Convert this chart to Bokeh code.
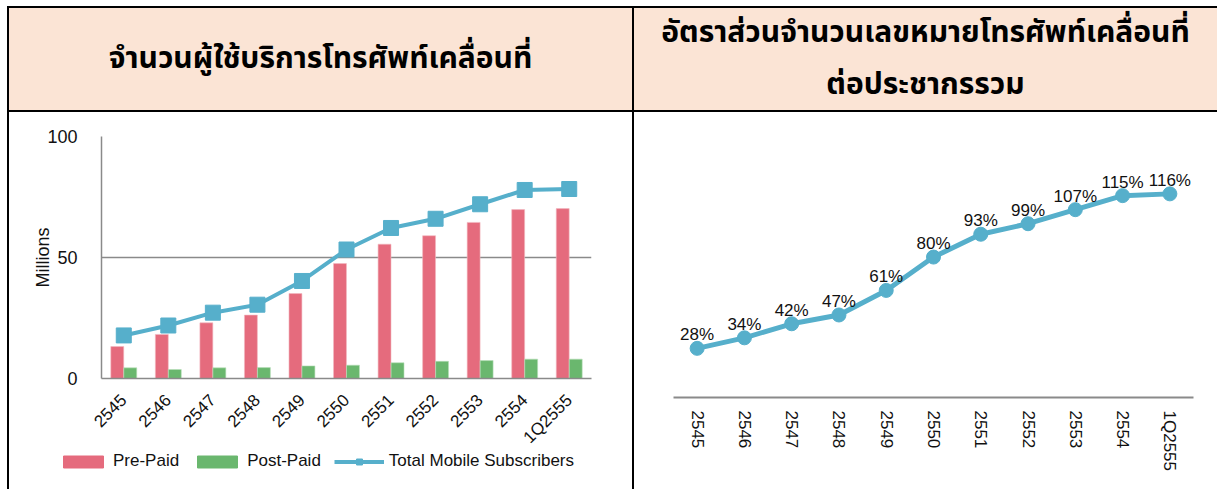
import math
from bokeh.plotting import figure
from bokeh.models import (Div, FactorRange, FixedTicker, Legend, LegendItem,
                          LabelSet, ColumnDataSource, Range1d)
from bokeh.layouts import row, column
from bokeh.transform import dodge
from bokeh.core.properties import value
from bokeh.embed import file_html
from bokeh.resources import INLINE

# ---------------- data ----------------
years = ["2545", "2546", "2547", "2548", "2549", "2550", "2551", "2552", "2553", "2554", "1Q2555"]
prepaid = [13.2, 18.2, 23.0, 26.2, 35.1, 47.5, 55.5, 59.0, 64.5, 69.8, 70.2]
postpaid = [4.4, 3.7, 4.4, 4.5, 5.2, 5.5, 6.5, 7.1, 7.4, 8.0, 8.0]
total_subs = [17.8, 21.9, 27.2, 30.5, 40.3, 53.3, 62.2, 66.0, 72.0, 77.9, 78.3]
penetration = [28, 34, 42, 47, 61, 80, 93, 99, 107, 115, 116]
y_ticks_left = [0, 50, 100]

title_left = "จำนวนผู้ใช้บริการโทรศัพท์เคลื่อนที่"
title_right_lines = ["อัตราส่วนจำนวนเลขหมายโทรศัพท์เคลื่อนที่", "ต่อประชากรรวม"]
series_names = ["Pre-Paid", "Post-Paid", "Total Mobile Subscribers"]
y_axis_label = "Millions"

# ---------------- styles ----------------
FONT = "Liberation Sans"
THAI_FONT = "'Noto Sans Thai', 'Noto Sans Thai UI', 'Loma', 'Garuda', 'Tlwg Typist', 'Noto Sans', sans-serif"
PINK = "#E56B7D"
GREEN = "#6AB76E"
BLUE = "#56AFCB"
AXIS_GRAY = "#8a8a8a"
PEACH = "#FBE4D5"
TXT = "#111111"
FS = "17px"

LEFT_W, RIGHT_W, BORDER = 623, 583, 2
HEAD_H, CELL_H, FIG_H = 102, 377, 360
TOP_PAD, LEFT_PAD, RIGHT_SHIFT = 6, 7, 17
P1_BOTTOM = 76
P1_H = 24 + 244 + P1_BOTTOM
OVERLAP = 8
LEG_H = CELL_H - P1_H + OVERLAP

# ---------------- left chart ----------------
src1 = ColumnDataSource(dict(cat=years, pre=prepaid, post=postpaid, tot=total_subs))
p1 = figure(width=LEFT_W, height=P1_H, x_range=FactorRange(*years), y_range=(0, 100),
            output_backend="svg", toolbar_location=None,
            min_border_left=92, min_border_right=41, min_border_top=24,
            min_border_bottom=P1_BOTTOM)
p1.frame_align = False
p1.outline_line_color = None
p1.background_fill_color = "white"
p1.border_fill_color = "white"

p1.vbar(x=dodge("cat", -0.146, range=p1.x_range), top="pre", width=0.29, source=src1,
        fill_color=PINK, line_color="#f2b9c1", line_width=0.6)
p1.vbar(x=dodge("cat", 0.146, range=p1.x_range), top="post", width=0.29, source=src1,
        fill_color=GREEN, line_color="#b9dfbb", line_width=0.6)
p1.line(x="cat", y="tot", source=src1, line_color=BLUE, line_width=4)
p1.scatter(x="cat", y="tot", source=src1, marker="square", size=15,
           fill_color=BLUE, line_color=BLUE)

p1.yaxis.ticker = FixedTicker(ticks=y_ticks_left)
p1.ygrid.ticker = FixedTicker(ticks=y_ticks_left)
p1.xgrid.grid_line_color = None
p1.ygrid.grid_line_color = AXIS_GRAY
p1.ygrid.grid_line_width = 1.5
for ax in (p1.xaxis[0], p1.yaxis[0]):
    ax.axis_line_color = AXIS_GRAY
    ax.axis_line_width = 1.5
    ax.major_tick_line_color = None
    ax.minor_tick_line_color = None
    ax.major_tick_out = 0
    ax.major_tick_in = 0
    ax.major_label_text_font = FONT
    ax.major_label_text_font_size = FS
    ax.major_label_text_color = TXT
p1.yaxis.axis_label = y_axis_label
p1.yaxis.axis_label_text_font = FONT
p1.yaxis.axis_label_text_font_size = "18px"
p1.yaxis.axis_label_text_font_style = "normal"
p1.yaxis.axis_label_text_color = TXT
p1.yaxis.axis_label_standoff = -9
p1.yaxis.major_label_text_font_size = "18px"
p1.yaxis.major_label_standoff = 24
p1.xaxis.major_label_orientation = math.pi / 4
p1.xaxis.major_label_standoff = 19

# legend strip below the chart (transparent, slightly overlapping the chart's bottom edge);
# its sample glyphs use the same data, kept out of view
lg = figure(width=LEFT_W, height=LEG_H, x_range=FactorRange(*years), y_range=Range1d(1000, 1001),
            output_backend="svg", toolbar_location=None,
            x_axis_location=None, y_axis_location=None,
            min_border_left=0, min_border_right=0, min_border_top=0, min_border_bottom=0)
lg.margin = (-OVERLAP, 0, 0, 0)
lg.frame_align = False
lg.grid.grid_line_color = None
lg.outline_line_color = None
lg.border_fill_alpha = 0
lg.background_fill_alpha = 0
g_pre = lg.vbar(x="cat", top="pre", width=0.01, source=src1, fill_color=PINK, line_color=PINK)
g_post = lg.vbar(x="cat", top="post", width=0.01, source=src1, fill_color=GREEN, line_color=GREEN)
g_line = lg.line(x="cat", y="tot", source=src1, line_color=BLUE, line_width=4)
g_mark = lg.scatter(x="cat", y="tot", source=src1, marker="square", size=15,
                    fill_color=BLUE, line_color=BLUE)
legend = Legend(items=[LegendItem(label=series_names[0], renderers=[g_pre]),
                       LegendItem(label=series_names[1], renderers=[g_post]),
                       LegendItem(label=series_names[2], renderers=[g_line, g_mark])],
                orientation="horizontal", location=(49, 18))
legend.glyph_width = 50
legend.glyph_height = 15
legend.label_height = 15
legend.label_standoff = 5
legend.spacing = 13
legend.padding = 0
legend.margin = 0
legend.border_line_color = None
legend.background_fill_alpha = 0
legend.label_text_font = FONT
legend.label_text_font_size = FS
legend.label_text_color = TXT
lg.add_layout(legend, "center")

# ---------------- right chart ----------------
labels_pct = [f"{v}%" for v in penetration]
src2 = ColumnDataSource(dict(cat=years, val=penetration, lab=labels_pct))
p2 = figure(width=RIGHT_W, height=FIG_H, x_range=FactorRange(*years), y_range=(0, 139),
            output_backend="svg", toolbar_location=None,
            min_border_left=39, min_border_right=24, min_border_top=24, min_border_bottom=92)
p2.frame_align = False
p2.outline_line_color = None
p2.background_fill_color = "white"
p2.border_fill_color = "white"
p2.line(x="cat", y="val", source=src2, line_color=BLUE, line_width=5)
p2.scatter(x="cat", y="val", source=src2, marker="circle", size=14,
           fill_color=BLUE, line_color=BLUE)
p2.add_layout(LabelSet(x="cat", y="val", text="lab", source=src2, text_align="center",
                       text_baseline="bottom", y_offset=4, text_font=value(FONT),
                       text_font_size=value(FS), text_color=value(TXT)))
p2.yaxis.visible = False
p2.xgrid.grid_line_color = None
p2.ygrid.grid_line_color = None
p2.xaxis.axis_line_color = AXIS_GRAY
p2.xaxis.axis_line_width = 2
p2.xaxis.major_tick_line_color = None
p2.xaxis.minor_tick_line_color = None
p2.xaxis.major_label_text_font = FONT
p2.xaxis.major_label_text_font_size = FS
p2.xaxis.major_label_text_color = TXT
p2.xaxis.major_label_orientation = "vertical"
p2.xaxis.major_label_standoff = 7

# ---------------- table frame (headers and borders) ----------------
def bar(w, h, color="#000000"):
    return Div(text="", width=w, height=h, margin=0,
               styles={"background-color": color})

def header(w, lines, fs, lh):
    inner = "<br>".join(lines)
    html = (f'<div style="width:{w}px;height:{HEAD_H}px;display:flex;align-items:center;'
            f'justify-content:center;text-align:center;background:{PEACH};color:#000;'
            f'font-family:{THAI_FONT};font-weight:bold;font-size:{fs}px;line-height:{lh}px;">'
            f'<span>{inner}</span></div>')
    return Div(text=html, width=w, height=HEAD_H, margin=0,
               styles={"background-color": PEACH, "overflow": "hidden"})

head_row = row(header(LEFT_W, [title_left], 30, 40), bar(BORDER, HEAD_H),
               header(RIGHT_W, title_right_lines, 30, 52))
left_cell = column(p1, lg)
right_cell = column(bar(RIGHT_W, RIGHT_SHIFT, "#ffffff"), p2)
chart_row = row(left_cell, bar(BORDER, CELL_H), right_cell)
inner = column(head_row, bar(LEFT_W + RIGHT_W + BORDER, BORDER), chart_row)
table = column(bar(LEFT_W + RIGHT_W + 2 * BORDER, BORDER),
               row(bar(BORDER, HEAD_H + BORDER + CELL_H), inner))
page = column(bar(LEFT_PAD + LEFT_W + RIGHT_W + 2 * BORDER, TOP_PAD, "#ffffff"),
              row(bar(LEFT_PAD, BORDER + HEAD_H + BORDER + CELL_H, "#ffffff"), table))

open("out.html", "w").write(file_html(page, INLINE))
